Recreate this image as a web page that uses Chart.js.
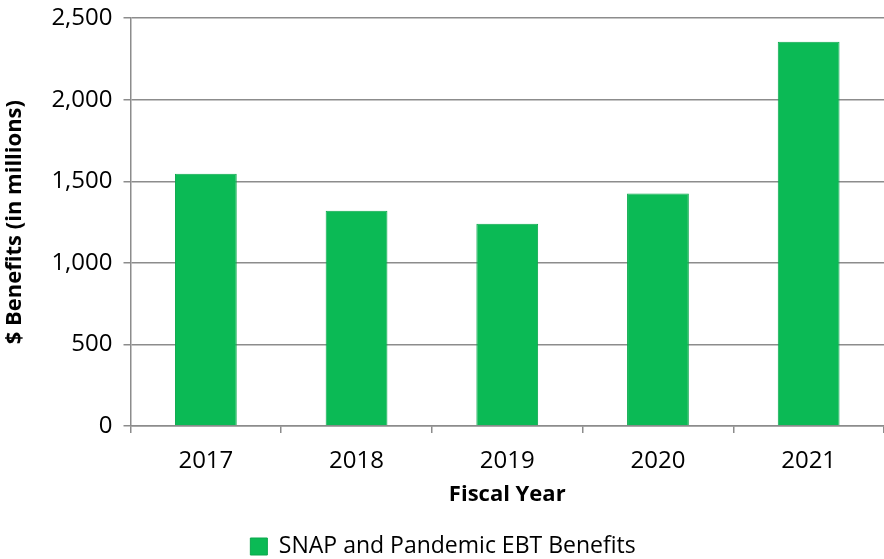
<!DOCTYPE html>
<html>
<head>
<meta charset="utf-8">
<script src="https://cdn.jsdelivr.net/npm/chart.js@4"></script>
<style>
  html, body { margin: 0; padding: 0; background: #fff; }
  #wrap { width: 884px; height: 559px; position: relative; }
</style>
</head>
<body>
<div id="wrap"><canvas id="benefitsChart"></canvas></div>
<script>
// Data
const years = ['2017', '2018', '2019', '2020', '2021'];
const benefits = [1546, 1320, 1240, 1425, 2355];
const yTicks = [0, 500, 1000, 1500, 2000, 2500];

const fontFamily = "'Open Sans', 'Liberation Sans', sans-serif";
const gridColor = '#8c8c8c';

const ctx = document.getElementById('benefitsChart').getContext('2d');
const benefitsChart = new Chart(ctx, {
    type: 'bar',
    data: {
        labels: years,
        datasets: [{
            label: 'SNAP and Pandemic EBT Benefits',
            data: benefits,
            backgroundColor: '#0bba55',
            borderColor: '#0aa84c',
            borderWidth: 1,
            categoryPercentage: 1,
            barPercentage: 0.41
        }]
    },
    options: {
        responsive: true,
        maintainAspectRatio: false,
        animation: false,
        layout: { padding: { top: 0, right: 0, left: 2, bottom: -9 } },
        scales: {
            x: {
                grid: {
                    offset: true,
                    drawOnChartArea: false,
                    drawTicks: true,
                    tickLength: 7,
                    color: gridColor,
                    lineWidth: 1.5
                },
                border: { color: gridColor, width: 1.5 },
                ticks: {
                    color: '#000',
                    font: { family: fontFamily, size: 24, lineHeight: 1 },
                    padding: 16
                },
                title: {
                    display: true,
                    text: 'Fiscal Year',
                    color: '#000',
                    font: { family: fontFamily, size: 22, weight: 'bold', lineHeight: 1 },
                    padding: { top: -5, bottom: 27 }
                }
            },
            y: {
                min: 0,
                max: 2500,
                afterBuildTicks: (axis) => {
                    axis.ticks = yTicks.map(v => ({ value: v }));
                },
                grid: {
                    color: gridColor,
                    lineWidth: 1.5,
                    tickLength: 7
                },
                border: { color: gridColor, width: 1.5 },
                ticks: {
                    color: '#000',
                    font: { family: fontFamily, size: 24, lineHeight: 0.6 },
                    padding: 11
                },
                title: {
                    display: true,
                    text: '$ Benefits (in millions)',
                    color: '#000',
                    font: { family: fontFamily, size: 22, weight: 'bold' },
                    padding: { top: 0, bottom: 12 }
                }
            }
        },
        plugins: {
            legend: {
                position: 'bottom',
                labels: {
                    color: '#000',
                    font: { family: fontFamily, size: 23, lineHeight: 1 },
                    boxWidth: 17,
                    boxHeight: 17,
                    padding: 2
                }
            },
            tooltip: { enabled: false }
        }
    }
});
</script>
</body>
</html>
